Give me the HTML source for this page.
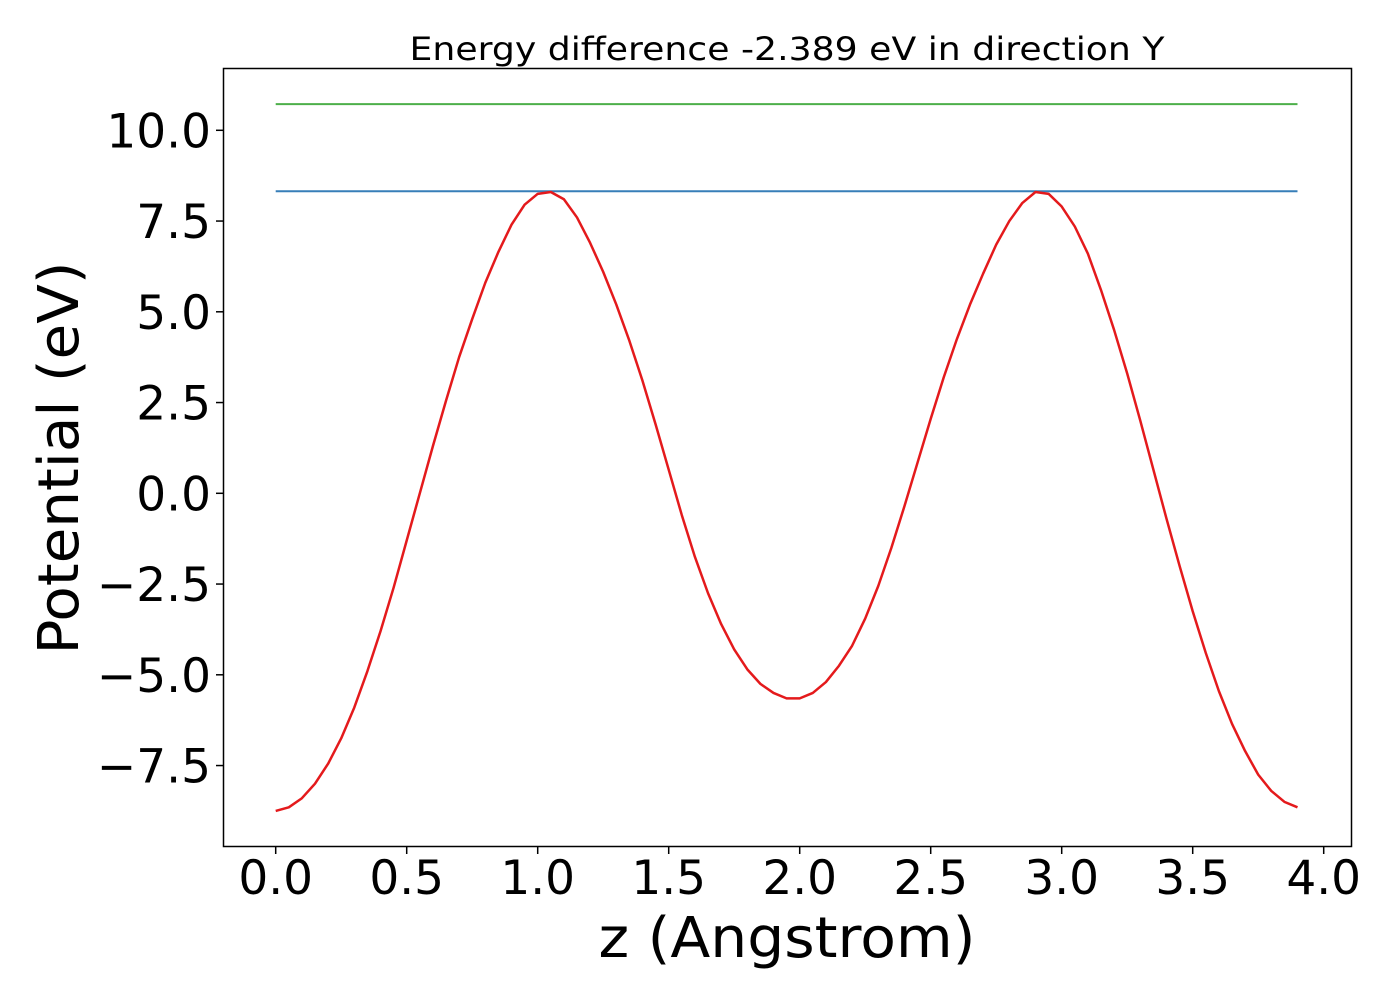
<!DOCTYPE html>
<html><head><meta charset="utf-8"><style>
html,body{margin:0;padding:0;background:#fff;}
svg{display:block;font-family:"DejaVu Sans","Liberation Sans",sans-serif;}
</style></head><body>
<svg id="chart" width="1400" height="1000" xmlns="http://www.w3.org/2000/svg">
<text x="787" y="60" font-size="32" text-anchor="middle" textLength="755" lengthAdjust="spacingAndGlyphs">Energy difference -2.389 eV in direction Y</text>
<g id="plot"></g>
<rect x="223.5" y="68.5" width="1128" height="778" fill="none" stroke="#000" stroke-width="1.5"/>
<text x="787" y="957" font-size="56" text-anchor="middle" textLength="377" lengthAdjust="spacingAndGlyphs">z (Angstrom)</text>
<text transform="translate(78,458) rotate(-90)" font-size="56" text-anchor="middle" textLength="393" lengthAdjust="spacingAndGlyphs">Potential (eV)</text>
</svg>
<script>
const zValues = [0,0.05,0.1,0.15,0.2,0.25,0.3,0.35,0.4,0.45,0.5,0.55,0.6,0.65,0.7,0.75,0.8,0.85,0.9,0.95,1.0,1.05,1.1,1.15,1.2,1.25,1.3,1.35,1.4,1.45,1.5,1.55,1.6,1.65,1.7,1.75,1.8,1.85,1.9,1.95,2.0,2.05,2.1,2.15,2.2,2.25,2.3,2.35,2.4,2.45,2.5,2.55,2.6,2.65,2.7,2.75,2.8,2.85,2.9,2.95,3.0,3.05,3.1,3.15,3.2,3.25,3.3,3.35,3.4,3.45,3.5,3.55,3.6,3.65,3.7,3.75,3.8,3.85,3.9];
const potential = [-8.75,-8.65,-8.4,-8.0,-7.45,-6.75,-5.9,-4.9,-3.8,-2.6,-1.3,0.0,1.3,2.55,3.75,4.8,5.8,6.65,7.4,7.95,8.25,8.3,8.1,7.6,6.9,6.1,5.2,4.2,3.1,1.9,0.65,-0.6,-1.75,-2.75,-3.6,-4.3,-4.85,-5.25,-5.5,-5.65,-5.65,-5.5,-5.2,-4.75,-4.2,-3.45,-2.55,-1.5,-0.35,0.85,2.05,3.2,4.25,5.2,6.05,6.85,7.5,8.0,8.3,8.25,7.9,7.35,6.6,5.6,4.5,3.3,2.0,0.65,-0.7,-2.0,-3.25,-4.4,-5.45,-6.35,-7.1,-7.75,-8.2,-8.5,-8.65];
const blueLevel = 8.32;
const greenLevel = 10.72;
const xTicks = [0,0.5,1,1.5,2,2.5,3,3.5,4];
const xTickLabels = ["0.0","0.5","1.0","1.5","2.0","2.5","3.0","3.5","4.0"];
const yTicks = [-7.5,-5,-2.5,0,2.5,5,7.5,10];
const yTickLabels = ["\u22127.5","\u22125.0","\u22122.5","0.0","2.5","5.0","7.5","10.0"];

const NS = "http://www.w3.org/2000/svg";
function xs(v){ return 275.7 + v * 262; }
function ys(v){ return 493.3 - v * 36.3; }
const plot = document.getElementById('plot');
const svg = document.getElementById('chart');
function mk(tag, attrs, parent){
  const el = document.createElementNS(NS, tag);
  for (const k in attrs) el.setAttribute(k, attrs[k]);
  parent.appendChild(el);
  return el;
}
const zMin = zValues[0], zMax = zValues[zValues.length-1];
const g = mk('line', {x1: xs(zMin), x2: xs(zMax), y1: ys(greenLevel), y2: ys(greenLevel), stroke: '#4daf4a', 'stroke-width': 2}, plot);


const b = mk('line', {x1: xs(zMin), x2: xs(zMax), y1: ys(blueLevel), y2: ys(blueLevel), stroke: '#377eb8', 'stroke-width': 2}, plot);


const pts = zValues.map((z,i)=> xs(z).toFixed(2)+','+ys(potential[i]).toFixed(2)).join(' ');
const red = mk('polyline', {points: pts, fill: 'none', stroke: '#e41a1c', 'stroke-width': 2.5, 'stroke-linejoin': 'round'}, plot);



xTicks.forEach((t,i)=>{
  const x = xs(t);
  const tk = mk('line', {x1: x, x2: x, y1: 847, y2: 854, stroke: '#000', 'stroke-width': 1.5}, svg);
  
  
  const tx = mk('text', {x: x, y: 894, 'font-size': 47, 'text-anchor': 'middle'}, svg);
  tx.textContent = xTickLabels[i];
  
  
});
yTicks.forEach((t,i)=>{
  const y = ys(t);
  const tk = mk('line', {x1: 216, x2: 223, y1: y, y2: y, stroke: '#000', 'stroke-width': 1.5}, svg);
  
  
  const tx = mk('text', {x: 211, y: y + 17, 'font-size': 47, 'text-anchor': 'end'}, svg);
  tx.textContent = yTickLabels[i];
  
  
});
</script>
</body></html>
